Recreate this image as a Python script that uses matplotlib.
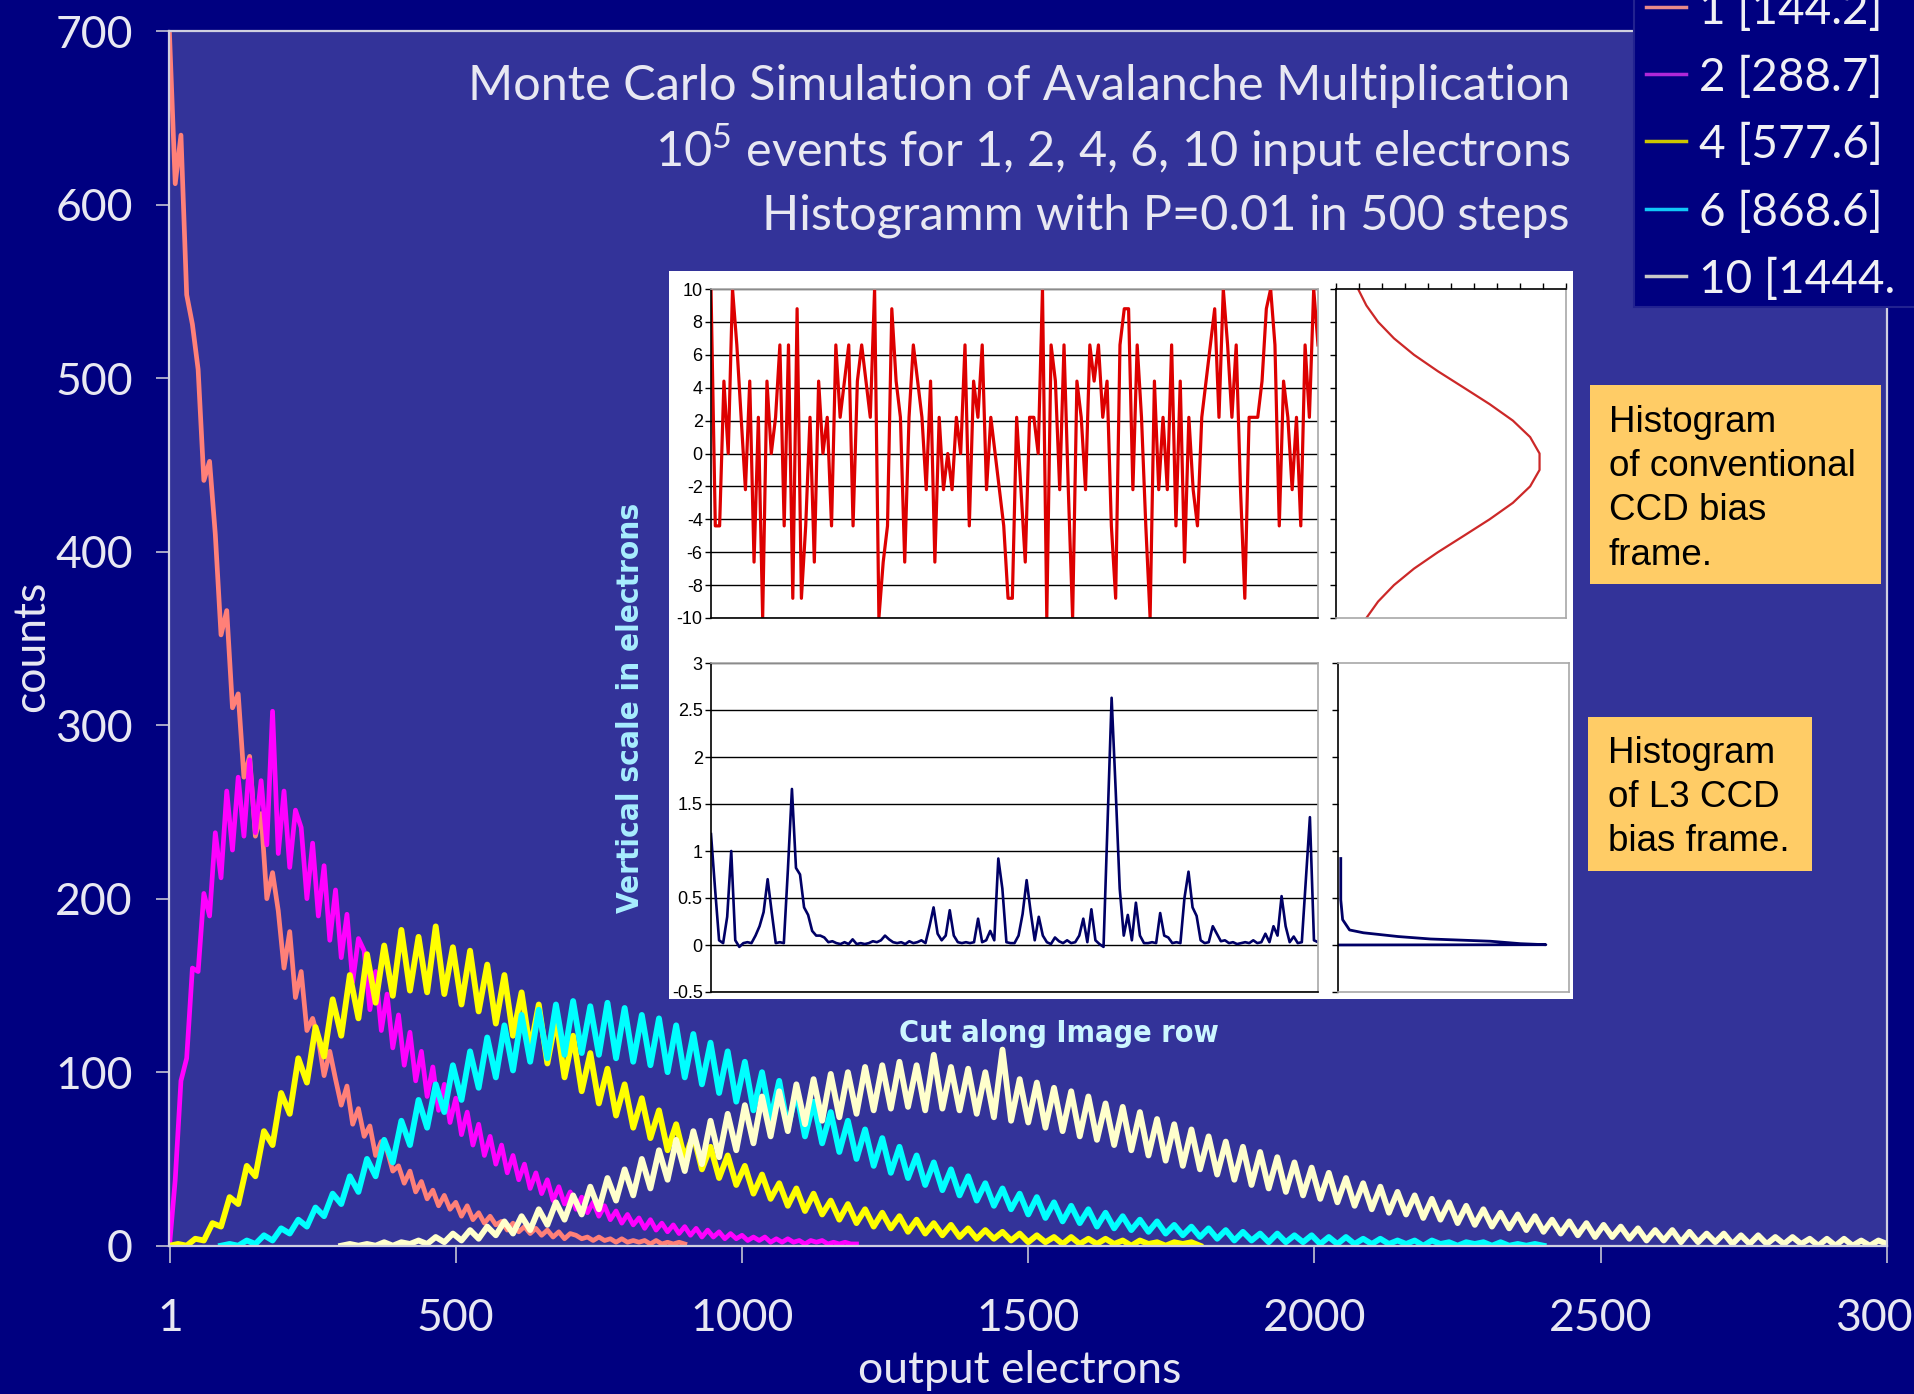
import matplotlib
matplotlib.use("Agg")
import matplotlib.pyplot as plt
import numpy as np
from matplotlib import font_manager
from matplotlib.patches import Rectangle
from matplotlib.lines import Line2D
from matplotlib.ticker import FuncFormatter

W, H = 1915, 1394

# ---------------- data ----------------
series_names = ["1 [144.2]", "2 [288.7]", "4 [577.6]", "6 [868.6]", "10 [1444."]

# histogram counts, 1 input electron (output electrons 0..900, every 10)
bins_1 = np.arange(0, 910, 10)
counts_1 = [698, 612, 640, 548, 531, 505, 441, 452, 410, 352,
            366, 310, 318, 270, 282, 236, 249, 200, 215, 193,
            160, 181, 143, 158, 124, 131, 119, 98, 112, 96,
            81, 92, 70, 79, 63, 69, 52, 60, 55, 43,
            46, 36, 43, 31, 37, 27, 32, 23, 29, 21,
            25, 17, 23, 15, 19, 13, 17, 12, 14, 9,
            13, 8, 11, 7, 10, 6, 9, 5, 8, 4,
            7, 6, 4, 5, 3, 5, 3, 4, 2, 4,
            2, 3, 2, 3, 1, 3, 1, 2, 1, 2,
            1]

# 2 input electrons (0..1200, every 10)
bins_2 = np.arange(0, 1210, 10)
counts_2 = [0, 38, 95, 108, 160, 158, 203, 190, 238, 212,
            262, 228, 270, 236, 280, 238, 268, 231, 308, 226,
            262, 218, 251, 241, 200, 232, 190, 219, 176, 205,
            166, 191, 152, 177, 170, 136, 158, 124, 145, 114,
            133, 104, 123, 95, 112, 86, 103, 78, 93, 71,
            85, 64, 77, 58, 70, 52, 63, 47, 58, 42,
            52, 38, 47, 33, 42, 30, 38, 26, 34, 24,
            31, 21, 28, 19, 25, 17, 23, 15, 20, 13,
            18, 12, 16, 10, 15, 9, 13, 8, 12, 7,
            11, 6, 10, 5, 9, 5, 8, 4, 7, 4,
            6, 3, 5, 3, 5, 2, 4, 2, 4, 2,
            3, 1, 3, 2, 3, 1, 2, 1, 2, 1,
            1]

# 4 input electrons (0..1800, every 15)
bins_4 = np.arange(0, 1815, 15)
counts_4 = [0, 1, 0, 4, 3, 13, 11, 28, 24, 46,
            40, 66, 58, 88, 76, 108, 94, 126, 109, 142,
            121, 156, 131, 168, 140, 173, 144, 182, 147, 178,
            146, 184, 145, 172, 139, 170, 135, 162, 128, 156,
            121, 146, 113, 139, 105, 131, 97, 121, 89, 111,
            82, 102, 75, 93, 68, 85, 62, 78, 55, 70,
            50, 64, 44, 57, 39, 52, 35, 46, 30, 41,
            27, 36, 23, 33, 20, 30, 18, 26, 15, 24,
            13, 21, 11, 19, 10, 17, 8, 15, 7, 13,
            6, 12, 5, 10, 4, 9, 4, 8, 3, 7,
            2, 6, 2, 5, 1, 5, 1, 4, 1, 4,
            1, 3, 0, 3, 1, 2, 0, 2, 1, 2,
            0]

# 6 input electrons (90..2400, every 15)
bins_6 = np.arange(90, 2415, 15)
counts_6 = [0, 1, 0, 3, 1, 6, 3, 10, 7, 15,
            11, 22, 17, 30, 24, 40, 31, 50, 40, 61,
            48, 72, 58, 84, 68, 93, 77, 104, 84, 112,
            91, 120, 97, 127, 101, 133, 106, 136, 108, 139,
            110, 141, 111, 138, 110, 140, 108, 137, 106, 133,
            104, 131, 100, 127, 97, 122, 93, 117, 88, 112,
            83, 106, 78, 100, 73, 95, 68, 89, 63, 83,
            59, 77, 54, 72, 50, 67, 46, 62, 42, 57,
            39, 52, 35, 48, 32, 44, 29, 40, 26, 36,
            23, 33, 21, 30, 18, 28, 16, 25, 14, 23,
            13, 21, 11, 19, 10, 17, 9, 15, 8, 14,
            7, 12, 6, 11, 5, 10, 4, 9, 3, 8,
            3, 7, 2, 7, 2, 6, 2, 6, 1, 5,
            1, 5, 1, 4, 1, 4, 1, 3, 1, 3,
            0, 3, 1, 2, 0, 2, 1, 2, 0, 2,
            0, 1, 0, 1, 0]

# 10 input electrons (300..3000, every 15)
bins_10 = np.arange(300, 3015, 15)
counts_10 = [0, 1, 0, 1, 0, 2, 0, 2, 1, 3,
             1, 5, 2, 7, 3, 9, 4, 11, 6, 14,
             7, 17, 9, 21, 12, 25, 15, 29, 18, 34,
             21, 39, 26, 44, 29, 50, 33, 55, 38, 61,
             43, 66, 47, 72, 51, 76, 55, 81, 59, 86,
             63, 89, 66, 93, 70, 96, 72, 99, 74, 100,
             76, 103, 78, 104, 79, 106, 80, 104, 78, 110,
             79, 103, 78, 102, 76, 100, 74, 113, 72, 96,
             71, 94, 68, 91, 66, 89, 63, 86, 61, 82,
             58, 80, 55, 77, 52, 73, 49, 70, 46, 67,
             44, 63, 41, 60, 38, 57, 35, 54, 33, 51,
             31, 48, 29, 45, 27, 42, 25, 39, 23, 36,
             21, 34, 19, 31, 18, 29, 16, 27, 15, 25,
             13, 23, 12, 21, 11, 19, 10, 18, 9, 17,
             8, 15, 7, 14, 6, 13, 5, 12, 5, 11,
             4, 10, 3, 9, 3, 9, 2, 8, 2, 7,
             2, 7, 1, 6, 1, 6, 1, 5, 1, 5,
             1, 4, 0, 4, 0, 4, 0, 3, 0, 3,
             1]

x_ticks = [1, 500, 1000, 1500, 2000, 2500, 3000]
y_ticks = [0, 100, 200, 300, 400, 500, 600, 700]

# inset: cut along an image row, conventional CCD (electrons)
row_conventional = [10, -4.4, -4.4, 4.4, 0, 10, 6.6, 2.2, -2.2, 4.4,
                    -6.6, 2.2, -10, 4.4, 0, 2.2, 6.6, -4.4, 6.6, -8.8,
                    8.8, -8.8, -4.4, 2.2, -6.6, 4.4, 0, 2.2, -4.4, 6.6,
                    2.2, 4.4, 6.6, -4.4, 4.4, 6.6, 4.4, 2.2, 10, -10,
                    -6.6, -4.4, 8.8, 4.4, 2.2, -6.6, 2.2, 6.6, 4.4, 2.2,
                    -2.2, 4.4, -6.6, 2.2, -2.2, 0, -2.2, 2.2, 0, 6.6,
                    -4.4, 4.4, 2.2, 6.6, -2.2, 2.2, 0, -2.2, -4.4, -8.8,
                    -8.8, 2.2, -2.2, -6.6, 2.2, 2.2, 0, 10, -10, 6.6,
                    4.4, -2.2, 6.6, -2.2, -10, 4.4, 2.2, -2.2, 6.6, 4.4,
                    6.6, 2.2, 4.4, -4.4, -8.8, 6.6, 8.8, 8.8, -2.2, 6.6,
                    2.2, -4.4, -10, 4.4, -2.2, 2.2, -2.2, 6.6, -4.4, 4.4,
                    -6.6, 2.2, -2.2, -4.4, 2.2, 4.4, 6.6, 8.8, 2.2, 10,
                    6.6, 2.2, 6.6, -2.2, -8.8, 2.2, 2.2, 2.2, 4.4, 8.8,
                    10, 6.6, -4.4, 4.4, 2.2, -2.2, 2.2, -4.4, 6.6, 2.2,
                    10, 6.6]

# inset: cut along an image row, L3 CCD (electrons)
row_l3 = [1.18, 0.60, 0.05, 0.02, 0.30, 1.00, 0.05, -0.02, 0.02, 0.03,
          0.02, 0.10, 0.20, 0.35, 0.70, 0.35, 0.02, 0.03, 0.02, 0.80,
          1.66, 0.82, 0.75, 0.40, 0.32, 0.15, 0.10, 0.10, 0.08, 0.03,
          0.04, 0.02, 0.01, 0.03, 0.01, 0.06, 0.01, 0.02, 0.01, 0.02,
          0.04, 0.03, 0.05, 0.10, 0.06, 0.03, 0.02, 0.03, 0.01, 0.04,
          0.02, 0.03, 0.05, 0.02, 0.20, 0.40, 0.12, 0.05, 0.10, 0.37,
          0.10, 0.03, 0.02, 0.03, 0.02, 0.03, 0.28, 0.03, 0.05, 0.15,
          0.05, 0.92, 0.60, 0.03, 0.02, 0.02, 0.10, 0.33, 0.69, 0.35,
          0.05, 0.30, 0.10, 0.03, 0.01, 0.08, 0.04, 0.02, 0.05, 0.02,
          0.03, 0.10, 0.28, 0.03, 0.38, 0.05, 0.01, -0.02, 1.30, 2.63,
          1.65, 0.60, 0.10, 0.32, 0.05, 0.45, 0.10, 0.02, 0.02, 0.03,
          0.02, 0.34, 0.10, 0.08, 0.02, 0.03, 0.02, 0.50, 0.78, 0.40,
          0.31, 0.05, 0.02, 0.03, 0.20, 0.12, 0.04, 0.05, 0.02, 0.03,
          0.01, 0.02, 0.03, 0.02, 0.05, 0.02, 0.03, 0.12, 0.03, 0.20,
          0.10, 0.52, 0.20, 0.03, 0.09, 0.02, 0.03, 0.70, 1.36, 0.05,
          0.03]

# histogram of the conventional bias frame (relative frequency per level)
conv_levels = [-10, -9, -8, -7, -6, -5, -4, -3, -2, -1, 0,
               1, 2, 3, 4, 5, 6, 7, 8, 9, 10]
conv_freq = [0.132, 0.183, 0.252, 0.339, 0.443, 0.556, 0.668, 0.769, 0.844, 0.885, 0.885,
             0.844, 0.769, 0.668, 0.556, 0.443, 0.339, 0.252, 0.183, 0.132, 0.096]

# histogram of the L3 bias frame
l3_freq = [0.012, 0.012, 0.02, 0.05, 0.11, 0.26, 0.40, 0.66, 0.79, 0.90, 0.0]
l3_levels = [0.92, 0.48, 0.27, 0.16, 0.13, 0.09, 0.064, 0.04, 0.014, 0.003, 0.0]

box1_lines = ["Histogram", "of conventional", "CCD bias", "frame."]
box2_lines = ["Histogram", "of L3 CCD", "bias frame."]

# ---------------- styling ----------------
names = {f.name for f in font_manager.fontManager.ttflist}


def pick(*cands):
    for c in cands:
        if c in names:
            return c
    return "DejaVu Sans"


MAIN = pick("Lato", "Open Sans", "DejaVu Sans")
ARIAL = pick("Liberation Sans", "DejaVu Sans")

plt.rcParams['font.family'] = [MAIN, 'DejaVu Sans']
plt.rcParams['axes.unicode_minus'] = False
plt.rcParams['mathtext.fontset'] = 'custom'
plt.rcParams['mathtext.rm'] = MAIN

line_colors = ['#FF8078', '#FF00FF', '#FFFF00', '#00FFFF', '#FFFFCC']
line_widths = [3.4, 3.4, 4.2, 4.2, 4.2]
legend_colors = ['#E88A8A', '#B028D8', '#CCC400', '#10C8F8', '#C8C8C8']
text_col = '#E8E8F2'


def fx(px):
    return px / W


def fy(py):
    return 1 - py / H


fig = plt.figure(figsize=(W / 100, H / 100), dpi=100, facecolor='#000080')

# ---------------- main histogram ----------------
ax = fig.add_axes([fx(169.5), fy(1245.7), fx(1887) - fx(169.5), fy(31) - fy(1245.7)])
ax.set_facecolor('#333399')
all_bins = [bins_1, bins_2, bins_4, bins_6, bins_10]
all_counts = [counts_1, counts_2, counts_4, counts_6, counts_10]
for xs, ys, col, lw in zip(all_bins, all_counts, line_colors, line_widths):
    ax.plot(xs, ys, color=col, lw=lw, solid_joinstyle='round')
ax.set_xlim(0, 3000)
ax.set_ylim(0, 700)
ax.set_xticks(x_ticks)
ax.set_xticklabels([str(t) for t in x_ticks])
ax.set_yticks(y_ticks)
ax.tick_params(axis='both', colors='#B4B4CC', labelcolor=text_col, labelsize=32, width=1.3)
ax.tick_params(axis='y', length=9.5, pad=17)
ax.tick_params(axis='x', length=12, pad=26)
for s in ax.spines.values():
    s.set_color('#D0D0E0')
    s.set_linewidth(1.6)

fig.text(fx(32), fy(646), "counts", rotation=90, ha='center', va='center',
         fontsize=32, color=text_col)
fig.text(fx(1020), fy(1383), "output electrons", ha='center', va='baseline',
         fontsize=32, color=text_col)

# title block
fig.text(fx(1570), fy(100), "Monte Carlo Simulation of Avalanche Multiplication",
         ha='right', va='baseline', fontsize=35, color=text_col)
fig.text(fx(1570), fy(167), r"10$^{\mathrm{5}}$ events for 1, 2, 4, 6, 10 input electrons",
         ha='right', va='baseline', fontsize=35, color=text_col)
fig.text(fx(1570), fy(230), "Histogramm with P=0.01 in 500 steps",
         ha='right', va='baseline', fontsize=35, color=text_col)

# legend (partly outside the slide, as in the original)
fig.add_artist(Rectangle((fx(1634), fy(307)), 1, 1, transform=fig.transFigure,
                         facecolor='#000080', edgecolor='#222290', lw=1.5, zorder=5))
handle_y = [7, 74, 141, 209, 276]
for lab, col, yy in zip(series_names, legend_colors, handle_y):
    fig.add_artist(Line2D([fx(1646), fx(1686)], [fy(yy), fy(yy)], color=col, lw=2.5,
                          transform=fig.transFigure, zorder=6))
    fig.text(fx(1699), fy(yy + 17), lab, ha='left', va='baseline', fontsize=33,
             color='#F0F0F4', zorder=6)

# ---------------- inset with the two CCD rows ----------------
fig.add_artist(Rectangle((fx(669), fy(999)), fx(1573) - fx(669), fy(271) - fy(999),
                         transform=fig.transFigure, facecolor='white', edgecolor='none', zorder=1))


def make_inset(left, top, right, bottom):
    a = fig.add_axes([fx(left), fy(bottom), fx(right) - fx(left), fy(top) - fy(bottom)], zorder=3)
    a.set_facecolor('white')
    for side in ('top', 'right', 'bottom'):
        a.spines[side].set_color('#A8A8A8')
    a.spines['left'].set_color('black')
    for s in a.spines.values():
        s.set_linewidth(1.2)
    a.set_xticks([])
    a.tick_params(axis='y', length=4, width=1, pad=2, labelsize=13, colors='black')
    return a


fmt = FuncFormatter(lambda v, p: f"{v:g}")

ax_tl = make_inset(711, 289, 1318, 618)
ax_tl.plot(np.arange(len(row_conventional)), row_conventional, color='#DD0000', lw=2.3)
ax_tl.set_xlim(0, len(row_conventional) - 1)
ax_tl.set_ylim(-10, 10)
ax_tl.set_yticks(np.arange(-10, 11, 2))
ax_tl.yaxis.set_major_formatter(fmt)
ax_tl.yaxis.grid(True, color='black', lw=1)
ax_tl.set_axisbelow(True)
ax_tl.spines['bottom'].set_color('black')

ax_bl = make_inset(711, 663, 1318, 992)
ax_bl.plot(np.arange(len(row_l3)), row_l3, color='#000066', lw=1.9)
ax_bl.set_xlim(0, len(row_l3) - 1)
ax_bl.set_ylim(-0.5, 3)
ax_bl.set_yticks(np.arange(-0.5, 3.01, 0.5))
ax_bl.yaxis.set_major_formatter(fmt)
ax_bl.yaxis.grid(True, color='black', lw=1)
ax_bl.set_axisbelow(True)
ax_bl.spines['bottom'].set_color('black')

ax_tr = make_inset(1336, 289, 1566, 618)
ax_tr.plot(conv_freq, conv_levels, color='#CC2828', lw=1.6)
ax_tr.set_xlim(0, 1)
ax_tr.set_ylim(-10, 10)
ax_tr.set_yticks(np.arange(-10, 11, 2))
ax_tr.set_yticklabels([])
ax_tr.xaxis.tick_top()
ax_tr.set_xticks(np.linspace(0, 1, 11))
ax_tr.set_xticklabels([])
ax_tr.tick_params(axis='x', length=4, width=1, colors='black')
ax_tr.spines['top'].set_color('black')

ax_br = make_inset(1338, 663, 1569, 992)
ax_br.plot(l3_freq, l3_levels, color='#000066', lw=2)
ax_br.set_xlim(0, 1)
ax_br.set_ylim(-0.5, 3)
ax_br.set_yticks(np.arange(-0.5, 3.01, 0.5))
ax_br.set_yticklabels([])

for a in (ax_tl, ax_bl):
    for lab in a.get_yticklabels():
        lab.set_family(ARIAL)

fig.text(fx(631), fy(708), "Vertical scale in electrons", rotation=90, ha='center', va='center',
         fontsize=22.5, fontweight='bold', fontstretch='condensed', family='DejaVu Sans',
         color='#A8EEFF', zorder=4)
fig.text(fx(1059), fy(1034), "Cut along Image row", ha='center', va='center',
         fontsize=22, fontweight='bold', fontstretch='condensed', family='DejaVu Sans',
         color='#CCF6FF', zorder=4)

# orange annotation boxes
fig.add_artist(Rectangle((fx(1590), fy(584)), fx(1881) - fx(1590), fy(385) - fy(584),
                         transform=fig.transFigure, facecolor='#FFCC66', edgecolor='none', zorder=2))
for line, base in zip(box1_lines, [432, 476, 520, 565]):
    fig.text(fx(1609), fy(base), line, ha='left', va='baseline', fontsize=26.5,
             family=ARIAL, color='black', zorder=4)

fig.add_artist(Rectangle((fx(1588), fy(871)), fx(1812) - fx(1588), fy(717) - fy(871),
                         transform=fig.transFigure, facecolor='#FFCC66', edgecolor='none', zorder=2))
for line, base in zip(box2_lines, [763, 807, 851]):
    fig.text(fx(1608), fy(base), line, ha='left', va='baseline', fontsize=26.5,
             family=ARIAL, color='black', zorder=4)

fig.savefig("out.png", dpi=100, facecolor=fig.get_facecolor())
